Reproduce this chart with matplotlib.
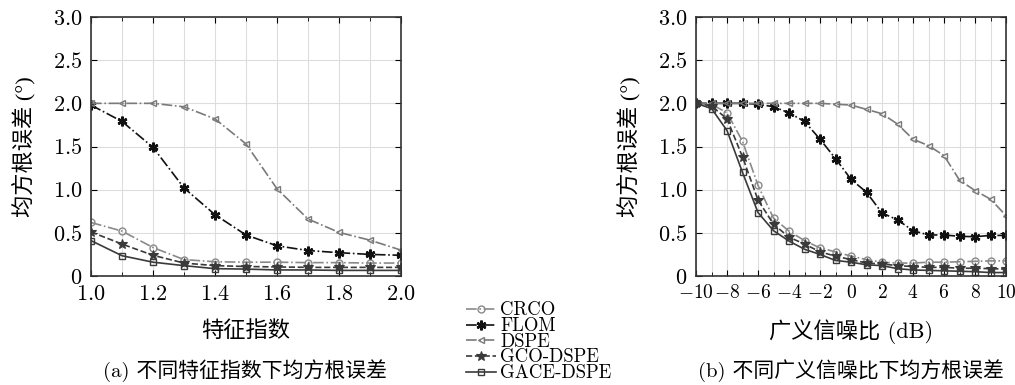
import matplotlib
matplotlib.use("Agg")
import matplotlib.pyplot as plt
import numpy as np

plt.rcParams["mathtext.fontset"] = "cm"
plt.rcParams["font.family"] = ["cmr10", "Noto Sans CJK SC", "DejaVu Sans"]
plt.rcParams["axes.unicode_minus"] = True

# ---- data: (a) characteristic exponent ----
alpha = [1.0, 1.1, 1.2, 1.3, 1.4, 1.5, 1.6, 1.7, 1.8, 1.9, 2.0]
a_crco = [0.62, 0.52, 0.33, 0.19, 0.165, 0.16, 0.16, 0.155, 0.155, 0.15, 0.15]
a_flom = [1.98, 1.79, 1.49, 1.02, 0.71, 0.475, 0.35, 0.295, 0.27, 0.25, 0.24]
a_dspe = [2.0, 2.0, 2.0, 1.96, 1.82, 1.53, 1.01, 0.66, 0.505, 0.415, 0.30]
a_gco = [0.51, 0.37, 0.24, 0.15, 0.12, 0.11, 0.105, 0.10, 0.10, 0.10, 0.10]
a_gace = [0.41, 0.235, 0.16, 0.12, 0.085, 0.08, 0.07, 0.07, 0.065, 0.065, 0.065]

# ---- data: (b) generalized SNR ----
gsnr = list(range(-10, 11))
b_crco = [2.0, 1.99, 1.89, 1.56, 1.05, 0.67, 0.52, 0.41, 0.325, 0.28, 0.23,
          0.19, 0.16, 0.15, 0.15, 0.16, 0.16, 0.165, 0.17, 0.175, 0.175]
b_flom = [2.0, 2.0, 2.0, 2.0, 1.99, 1.96, 1.89, 1.79, 1.585, 1.36, 1.12,
          0.97, 0.73, 0.65, 0.525, 0.475, 0.475, 0.46, 0.455, 0.47, 0.47]
b_dspe = [2.0, 2.0, 2.0, 2.0, 2.0, 2.0, 2.0, 2.0, 2.0, 1.99, 1.98,
          1.93, 1.88, 1.76, 1.585, 1.51, 1.395, 1.11, 0.99, 0.89, 0.70]
b_gco = [2.0, 1.97, 1.82, 1.38, 0.88, 0.60, 0.45, 0.37, 0.28, 0.23, 0.19,
         0.15, 0.14, 0.12, 0.11, 0.10, 0.10, 0.09, 0.09, 0.085, 0.08]
b_gace = [2.0, 1.94, 1.685, 1.20, 0.735, 0.525, 0.405, 0.31, 0.25, 0.18, 0.16,
          0.13, 0.12, 0.085, 0.07, 0.065, 0.06, 0.055, 0.05, 0.04, 0.04]

labels = ["CRCO", "FLOM", "DSPE", "GCO-DSPE", "GACE-DSPE"]
styles = [
    dict(color="#8a8a8a", ls="-.", marker="o", mfc="none", ms=5, mew=1.0),
    dict(color="#111111", ls="-.", marker=(6, 2, 0), ms=7, mew=1.8),
    dict(color="#7a7a7a", ls="-.", marker="<", mfc="none", ms=5, mew=1.0),
    dict(color="#3a3a3a", ls="--", marker="*", mfc="#3a3a3a", ms=7, mew=0.8),
    dict(color="#3a3a3a", ls="-", marker="s", mfc="none", ms=4.5, mew=1.0),
]

fig = plt.figure(figsize=(10.15, 3.85), dpi=100)
ax1 = fig.add_axes([91 / 1015, 1 - 276 / 385, 310 / 1015, 259 / 385])
ax2 = fig.add_axes([696 / 1015, 1 - 276 / 385, 310 / 1015, 259 / 385])

for ys, lab, st in zip([a_crco, a_flom, a_dspe, a_gco, a_gace], labels, styles):
    ax1.plot(alpha, ys, label=lab, lw=1.2, **st)
for ys, lab, st in zip([b_crco, b_flom, b_dspe, b_gco, b_gace], labels, styles):
    ax2.plot(gsnr, ys, lw=1.2, **st)

cjk = ["cmr10", "Noto Sans CJK SC", "DejaVu Sans"]
ylab_font = ["Liberation Serif", "Noto Sans CJK SC", "DejaVu Sans"]

ax1.set_xlim(1.0, 2.0)
ax1.set_xticks(np.arange(1.0, 2.01, 0.2))
ax1.set_xticks(np.arange(1.0, 2.01, 0.1), minor=True)
ax1.set_xticklabels([f"${v:.1f}$" for v in np.arange(1.0, 2.01, 0.2)])

ax2.set_xlim(-10, 10)
ax2.set_xticks(range(-10, 11, 2))
ax2.set_xticks(range(-10, 11, 1), minor=True)
ax2.set_xticklabels([f"${v}$" for v in range(-10, 11, 2)])

for ax in (ax1, ax2):
    ax.set_ylim(0, 3.0)
    ax.set_yticks(np.arange(0, 3.01, 0.5))
    ax.set_yticklabels(["$0$"] + [f"${v:.1f}$" for v in np.arange(0.5, 3.01, 0.5)])
    ax.grid(True, which="both", color="#dddddd", lw=0.8)
    ax.set_axisbelow(True)
    ax.tick_params(which="both", direction="in", top=True, right=True,
                   labelsize=16, pad=6)
    ax.tick_params(which="major", length=4)
    ax.tick_params(which="minor", length=3)
    for sp in ax.spines.values():
        sp.set_linewidth(1.2)
        sp.set_color("#333333")
    ax.set_ylabel("均方根误差 (°)", fontsize=16, family=ylab_font, labelpad=12)

ax2.tick_params(axis="x", labelsize=14)

ax1.set_xlabel("特征指数", fontsize=16, family=cjk, labelpad=12)
ax2.set_xlabel("广义信噪比 (dB)", fontsize=16, family=cjk, labelpad=12)

fig.text(245 / 1015, 1 - 371 / 385, "(a) 不同特征指数下均方根误差", fontsize=15,
         family=cjk, ha="center", va="center")
fig.text(851 / 1015, 1 - 371 / 385, "(b) 不同广义信噪比下均方根误差", fontsize=15,
         family=cjk, ha="center", va="center")

handles, lbls = ax1.get_legend_handles_labels()
leg = fig.legend(handles, lbls, loc="lower left", bbox_to_anchor=(458 / 1015, -0.012),
                 frameon=False, labelspacing=-0.12, handlelength=1.6,
                 handletextpad=0.25, borderaxespad=0.0,
                 prop={"family": ["cmr10", "DejaVu Serif"], "size": 13.5})

fig.savefig("out.png", dpi=100)
